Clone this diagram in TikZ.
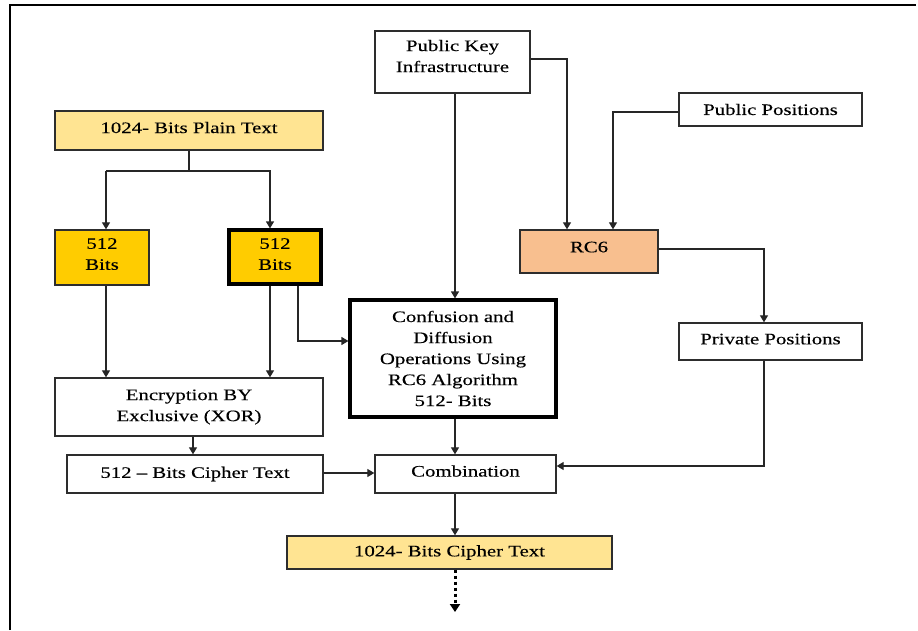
\documentclass[tikz,border=0pt]{standalone}
\usepackage{fontspec}
\setmainfont{Liberation Serif}[FakeStretch=1.3,FakeBold=0.3]
\usetikzlibrary{arrows.meta}
\definecolor{paleGold}{RGB}{255,228,146}
\definecolor{gold}{RGB}{255,204,0}
\definecolor{peach}{RGB}{248,191,143}
\definecolor{edge}{RGB}{45,45,45}
\begin{document}
\begin{tikzpicture}[x=1pt,y=-1pt,
  box/.style={draw=edge, line width=1.3pt, fill=white, inner sep=0pt, align=center,
    font=\fontsize{16}{21}\selectfont},
  thickbox/.style={box, line width=3.2pt, draw=black},
  conn/.style={draw=black!85, line width=1.2pt, -{Triangle[width=8pt,length=7pt]}},
  line/.style={draw=black!85, line width=1.2pt}]
\useasboundingbox (0,0) rectangle (918,630);
% frame
\draw[line width=2pt] (10,630) -- (10,5) -- (916,5);
% nodes
\node[box, minimum width=155, minimum height=62, text depth=12pt] (pki) at (452.5,62) {Public Key\\Infrastructure};
\node[box, minimum width=183, minimum height=33] (pubpos) at (770.5,109.5) {Public Positions};
\node[box, fill=paleGold, minimum width=268, minimum height=39, text depth=6pt] (plain) at (189,130.5) {1024- Bits Plain Text};
\node[box, fill=gold, minimum width=94, minimum height=55, text depth=7pt] (bitsL) at (102,257.5) {512\\Bits};
\node[thickbox, fill=gold, minimum width=92, minimum height=54, text depth=6pt] (bitsR) at (275,257) {512\\Bits};
\node[box, fill=peach, minimum width=138, minimum height=43, text depth=9pt] (rc6) at (589,251.5) {RC6};
\node[thickbox, minimum width=206, minimum height=117] (conf) at (453,358.5) {Confusion and\\Diffusion\\Operations Using\\RC6 Algorithm\\512- Bits};
\node[box, minimum width=183, minimum height=37, text depth=5pt] (priv) at (770.5,341.5) {Private Positions};
\node[box, minimum width=268, minimum height=58] (enc) at (189,407) {Encryption BY\\Exclusive (XOR)};
\node[box, minimum width=256, minimum height=38] (c512) at (195,474) {512 – Bits Cipher Text};
\node[box, minimum width=181, minimum height=38, text depth=6pt] (comb) at (465.5,474) {Combination};
\node[box, fill=paleGold, minimum width=325, minimum height=33] (c1024) at (449.5,552.5) {1024- Bits Cipher Text};
\coordinate (out) at (455,612);
% connectors
\draw[line] (plain.south) -- (189,171) coordinate (split);
\draw[conn] (106,171) -- (106,171 |- bitsL.north);
\draw[conn] (split) -| (270,171 |- bitsR.north);
\draw[line] (split) -- (106,171);
\draw[conn] (106,0 |- bitsL.south) -- (106,0 |- enc.north);
\draw[conn] (270,0 |- bitsR.south) -- (270,0 |- enc.north);
\draw[conn] (298,0 |- bitsR.south) |- (conf.west |- 0,341);
\draw[conn] (455,0 |- pki.south) -- (455,0 |- conf.north);
\draw[conn] (pki.east |- 0,59) -| (567,0 |- rc6.north);
\draw[conn] (pubpos.west |- 0,112) -| (613,0 |- rc6.north);
\draw[conn] (rc6.east |- 0,249) -| (764,0 |- priv.north);
\draw[conn] (764,0 |- priv.south) |- (comb.east |- 0,466);
\draw[conn] (455,0 |- conf.south) -- (455,0 |- comb.north);
\draw[conn] (193,0 |- enc.south) -- (193,0 |- c512.north);
\draw[conn] (c512.east |- 0,473) -- (comb.west |- 0,473);
\draw[conn] (455,0 |- comb.south) -- (455,0 |- c1024.north);
\draw[line width=3pt, dash pattern=on 3pt off 3pt, -{Triangle[width=10pt,length=8pt]}] (455,0 |- c1024.south) -- (out);
\end{tikzpicture}
\end{document}
